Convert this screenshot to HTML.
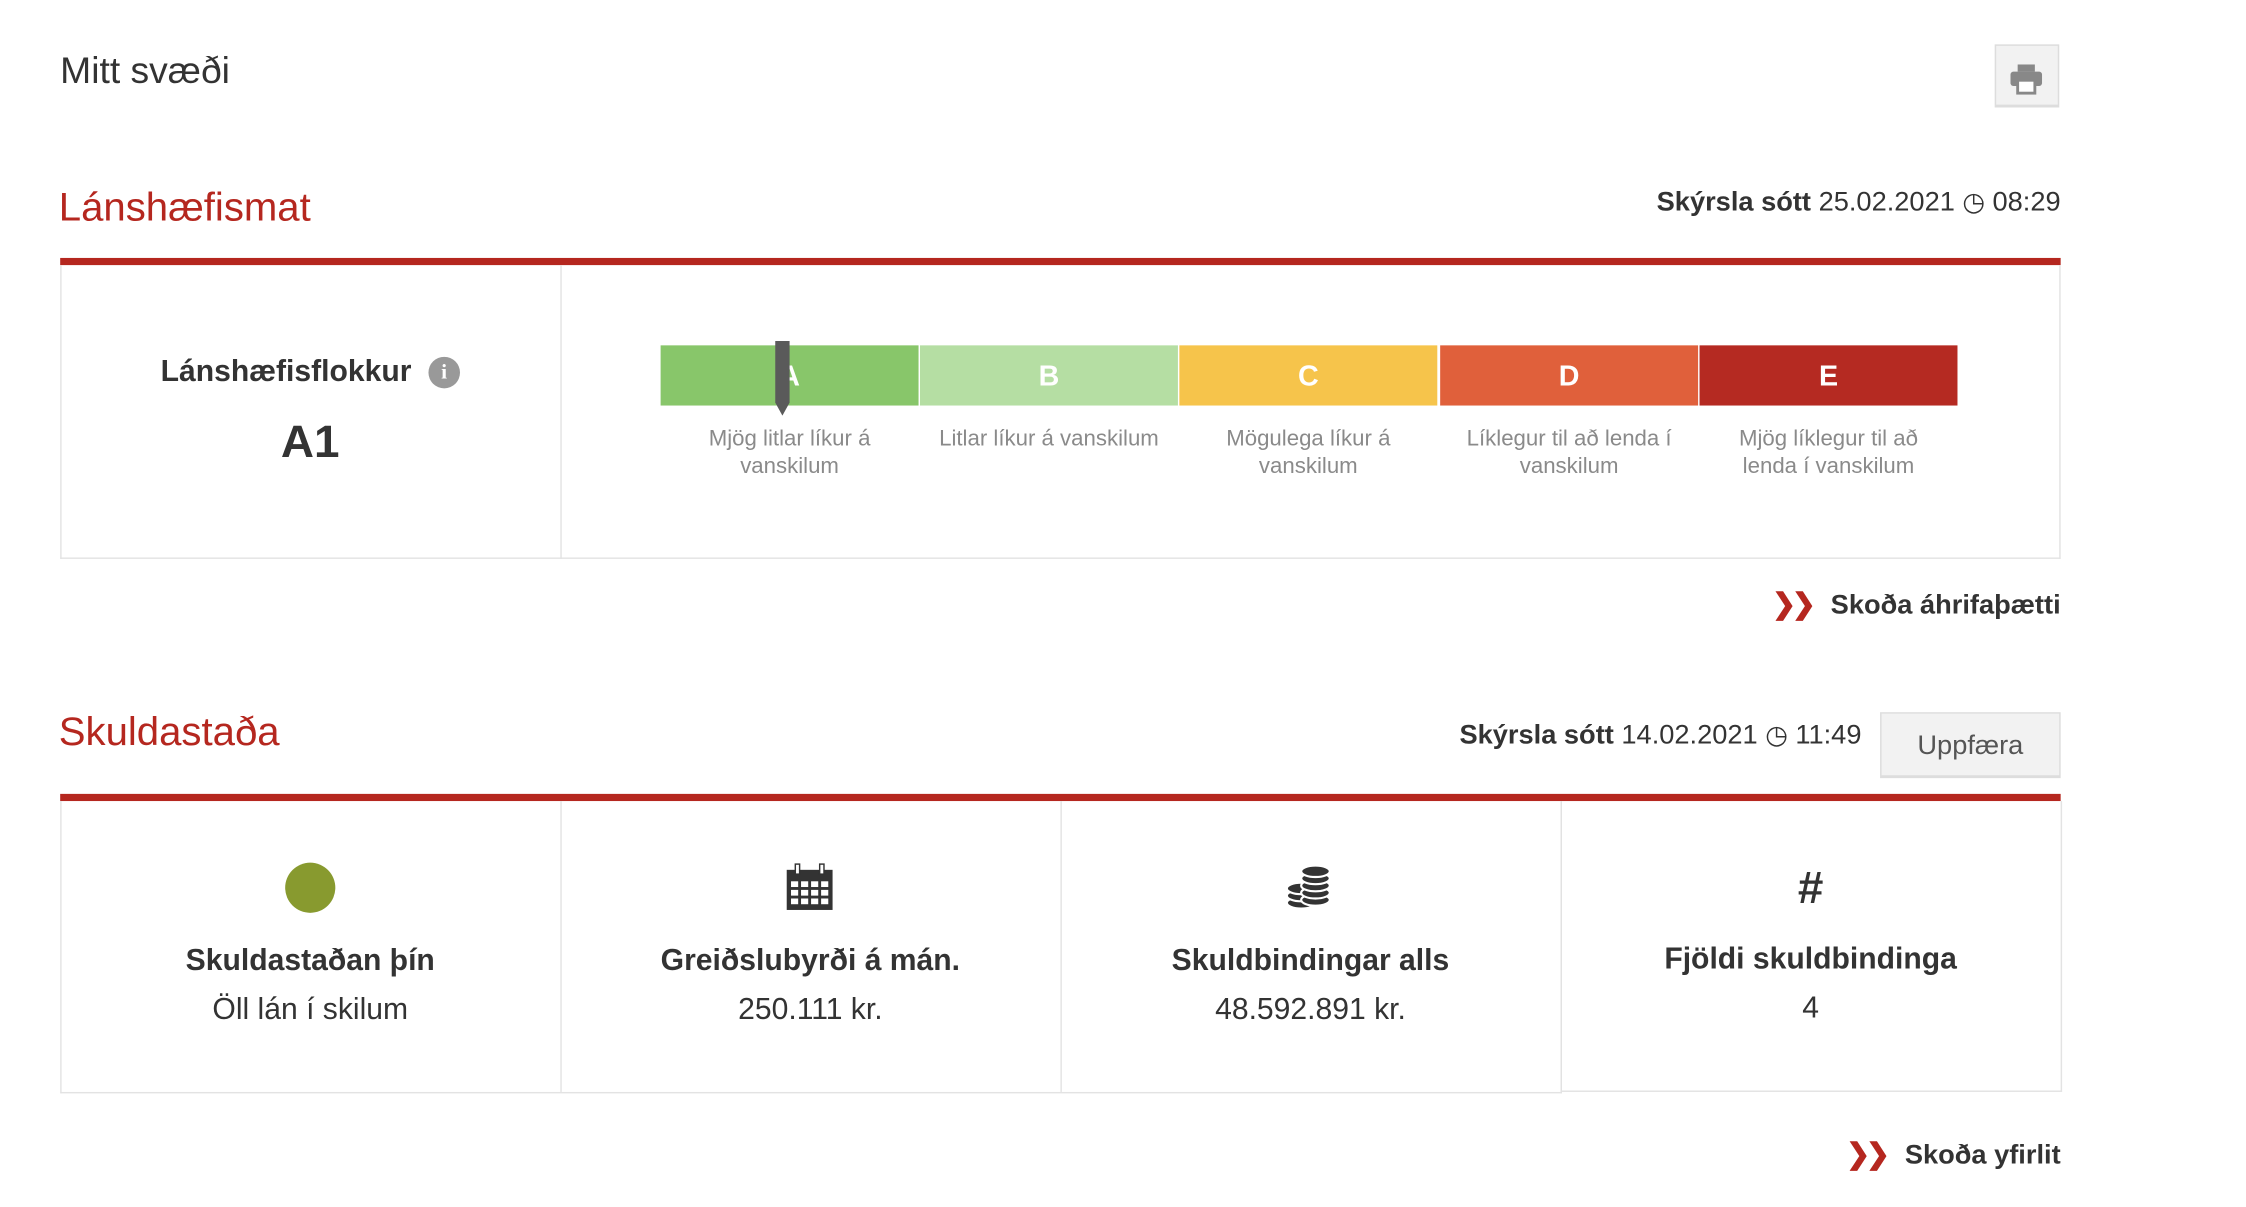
<!DOCTYPE html>
<html><head><meta charset="utf-8"><style>
html,body{margin:0;padding:0;background:#fff;}
body{width:2246px;height:1206px;overflow:hidden;font-family:"Liberation Sans",sans-serif;color:#333;}
#s{position:absolute;left:0;top:0;width:1570px;height:842px;transform:scale(1.433);transform-origin:0 0;}
.a{position:absolute;white-space:nowrap;}
.red{color:#b5271f;}
.bar{position:absolute;left:42px;width:1396px;height:5px;background:#b5271f;}
.box{position:absolute;border:1px solid #e3e3e3;border-top:none;box-sizing:border-box;}
.seg{position:absolute;top:241px;height:42px;width:180px;color:#fff;font-weight:bold;font-size:20px;text-align:center;line-height:44px;}
.lbl{position:absolute;top:297px;width:180px;text-align:center;color:#8a8a8a;font-size:15.5px;line-height:19px;}
.cell{position:absolute;top:559px;height:203px;width:349px;text-align:center;}
.t{position:absolute;width:100%;font-weight:bold;font-size:21px;}
.v{position:absolute;width:100%;font-size:21px;}
.lnk{font-weight:bold;font-size:19px;}
.chev{color:#b5271f;font-weight:bold;font-size:20px;letter-spacing:-3px;}
</style></head><body><div id="s">
<div class="a" style="left:42px;top:34px;font-size:26px;">Mitt svæði</div>
<div class="a" style="left:1392px;top:31px;width:45px;height:44px;background:#f2f2f2;border:1px solid #ddd;border-bottom:2px solid #ddd;box-sizing:border-box;">
<svg width="45" height="44" viewBox="0 0 45 44" style="position:absolute;left:-1px;top:-1px"><rect x="16" y="14" width="12" height="5" fill="#888"/><rect x="11" y="19" width="22" height="10" rx="2" fill="#888"/><rect x="16" y="25" width="12" height="9" fill="#fff" stroke="#888" stroke-width="2"/></svg></div>

<div class="a red" style="left:41px;top:129px;font-size:28px;">Lánshæfismat</div>
<div class="a" style="right:132px;top:131px;font-size:19px;"><b>Skýrsla sótt</b> 25.02.2021 <span style="font-size:18px">&#9719;</span> 08:29</div>
<div class="bar" style="top:180px"></div>
<div class="box" style="left:42px;top:185px;width:1396px;height:205px;"></div>
<div class="a" style="left:391px;top:185px;width:1px;height:205px;background:#e3e3e3"></div>
<div class="a" style="left:42px;top:248px;width:349px;text-align:center;font-weight:bold;font-size:21px;">Lánshæfisflokkur <span style="display:inline-block;width:22px;height:22px;border-radius:50%;background:#999;color:#fff;font-size:15px;line-height:22px;vertical-align:2px;margin-left:6px;font-family:'Liberation Serif',serif">i</span></div>
<div class="a" style="left:42px;top:290px;width:349px;text-align:center;font-weight:bold;font-size:32px;">A1</div>

<div class="seg" style="left:461px;background:#88c66a">A</div>
<div class="seg" style="left:642px;background:#b5dea3">B</div>
<div class="seg" style="left:823px;background:#f6c44b">C</div>
<div class="seg" style="left:1005px;background:#e0603b">D</div>
<div class="seg" style="left:1186px;background:#b52a22">E</div>
<svg class="a" style="left:539px;top:237px" width="14" height="54"><polygon points="2,1 12,1 12,44 7,53 2,44" fill="#5a5a5a"/></svg>
<div class="lbl" style="left:461px">Mjög litlar líkur á<br>vanskilum</div>
<div class="lbl" style="left:642px">Litlar líkur á vanskilum</div>
<div class="lbl" style="left:823px">Mögulega líkur á<br>vanskilum</div>
<div class="lbl" style="left:1005px">Líklegur til að lenda í<br>vanskilum</div>
<div class="lbl" style="left:1186px">Mjög líklegur til að<br>lenda í vanskilum</div>

<div class="a" style="right:132px;top:409px;"><span class="chev">❯❯</span>&nbsp;&nbsp;&nbsp;<span class="lnk">Skoða áhrifaþætti</span></div>

<div class="a red" style="left:41px;top:495px;font-size:28px;">Skuldastaða</div>
<div class="a" style="right:271px;top:503px;font-size:19px;"><b>Skýrsla sótt</b> 14.02.2021 <span style="font-size:18px">&#9719;</span> 11:49</div>
<div class="a" style="left:1312px;top:497px;width:126px;height:46px;background:#f2f2f2;border:1px solid #ddd;border-bottom:2px solid #ddd;box-sizing:border-box;text-align:center;line-height:46px;font-size:19px;color:#555;">Uppfæra</div>
<div class="bar" style="top:554px"></div>
<div class="box" style="left:42px;top:559px;width:1048px;height:204px;"></div>
<div class="box" style="left:1089px;top:559px;width:350px;height:203px;"></div>
<div class="a" style="left:391px;top:559px;width:1px;height:203px;background:#e3e3e3"></div>
<div class="a" style="left:740px;top:559px;width:1px;height:203px;background:#e3e3e3"></div>

<div class="cell" style="left:42px"><div class="a" style="left:157px;top:43px;width:35px;height:35px;border-radius:50%;background:#889a2f"></div>
<div class="t" style="top:100px">Skuldastaðan þín</div><div class="v" style="top:134px">Öll lán í skilum</div></div>
<div class="cell" style="left:391px"><svg class="a" style="left:157px;top:43px" width="34" height="34" viewBox="0 0 34 34"><rect x="1" y="5" width="32" height="28" fill="#333"/><g fill="#fff"><rect x="4" y="13" width="5" height="4"/><rect x="11" y="13" width="5" height="4"/><rect x="18" y="13" width="5" height="4"/><rect x="25" y="13" width="5" height="4"/><rect x="4" y="19" width="5" height="4"/><rect x="11" y="19" width="5" height="4"/><rect x="18" y="19" width="5" height="4"/><rect x="25" y="19" width="5" height="4"/><rect x="4" y="25" width="5" height="4"/><rect x="11" y="25" width="5" height="4"/><rect x="18" y="25" width="5" height="4"/><rect x="25" y="25" width="5" height="4"/><rect x="7" y="1" width="3" height="7" stroke="#333"/><rect x="24" y="1" width="3" height="7" stroke="#333"/></g></svg>
<div class="t" style="top:100px">Greiðslubyrði á mán.</div><div class="v" style="top:134px">250.111 kr.</div></div>
<div class="cell" style="left:740px"><svg class="a" style="left:156px;top:42px" width="36" height="34" viewBox="0 0 36 34"><g fill="#333" stroke="#fff" stroke-width="1.5"><ellipse cx="12" cy="29" rx="10" ry="4"/><ellipse cx="12" cy="24" rx="10" ry="4"/><ellipse cx="12" cy="19" rx="10" ry="4"/><ellipse cx="22" cy="27" rx="10" ry="4"/><ellipse cx="22" cy="22" rx="10" ry="4"/><ellipse cx="22" cy="17" rx="10" ry="4"/><ellipse cx="22" cy="12" rx="10" ry="4"/><ellipse cx="22" cy="7" rx="10" ry="4"/></g></svg>
<div class="t" style="top:100px">Skuldbindingar alls</div><div class="v" style="top:134px">48.592.891 kr.</div></div>
<div class="cell" style="left:1089px"><div class="a" style="left:0;top:42px;width:100%;text-align:center;font-weight:bold;font-size:32px;">#</div>
<div class="t" style="top:99px">Fjöldi skuldbindinga</div><div class="v" style="top:133px">4</div></div>

<div class="a" style="right:132px;top:793px;"><span class="chev">❯❯</span>&nbsp;&nbsp;&nbsp;<span class="lnk">Skoða yfirlit</span></div>
</div></body></html>
